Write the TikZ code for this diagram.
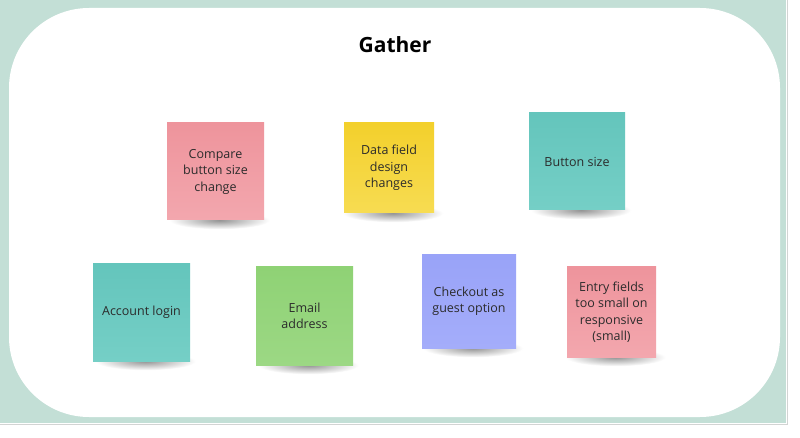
\documentclass[tikz,border=0pt]{standalone}
\usepackage{fontspec}
\setmainfont{Open Sans}
\pgfdeclarelayer{board}
\pgfdeclarelayer{shade}
\pgfsetlayers{board,shade,main}

\definecolor{frame}{HTML}{C3DFD6}
\definecolor{edgegray}{HTML}{D2D4D3}
\definecolor{inkdark}{HTML}{2B2B2B}
\definecolor{pinktop}{HTML}{EE949C}
\definecolor{pinkbot}{HTML}{F3A7AE}
\definecolor{yellowtop}{HTML}{F3D02C}
\definecolor{yellowbot}{HTML}{F7DC52}
\definecolor{tealtop}{HTML}{64C5BC}
\definecolor{tealbot}{HTML}{75CFC6}
\definecolor{greentop}{HTML}{8FD275}
\definecolor{greenbot}{HTML}{9CD884}
\definecolor{bluetop}{HTML}{99A3F8}
\definecolor{bluebot}{HTML}{A4ADFA}

\tikzset{
  sticky/.style={inner sep=0pt, align=center, text=inkdark,
    font=\fontsize{12.5}{16.5}\selectfont},
  pinknote/.style={sticky, top color=pinktop, bottom color=pinkbot},
  yellownote/.style={sticky, top color=yellowtop, bottom color=yellowbot},
  tealnote/.style={sticky, top color=tealtop, bottom color=tealbot},
  greennote/.style={sticky, top color=greentop, bottom color=greenbot},
  bluenote/.style={sticky, top color=bluetop, bottom color=bluebot},
}

\begin{document}
\begin{tikzpicture}[x=1pt, y=-1pt]
  \useasboundingbox (0,0) rectangle (800,438);

  % board
  \begin{pgfonlayer}{board}
    \fill[white] (0,0) rectangle (800,438);
    \fill[frame] (0,0) rectangle (786,423);
    \draw[edgegray, line width=1pt] (787,0) -- (787,424) -- (0,424);
    \fill[white, rounded corners=80pt] (9,8) rectangle (780,417);
  \end{pgfonlayer}

  \node[font=\fontsize{21}{25}\selectfont\bfseries, text=black] (title) at (395,45) {Gather};

  % notes
  \node[pinknote, minimum width=97pt, minimum height=97pt] (compare) at (215.5,171.5)
    {Compare\\button size\\change};
  \node[yellownote, minimum width=90pt, minimum height=90pt] (datafield) at (389,168)
    {Data field\\design\\changes};
  \node[tealnote, minimum width=96pt, minimum height=97pt] (button) at (577,161.5)
    {Button size};
  \node[tealnote, minimum width=97pt, minimum height=97pt] (account) at (141.5,312.5)
    {Account login};
  \node[greennote, minimum width=97pt, minimum height=98pt] (email) at (304.5,316)
    {Email\\address};
  \node[bluenote, minimum width=94pt, minimum height=93pt] (checkout) at (469,301.5)
    {Checkout as\\guest option};
  \node[pinknote, minimum width=89pt, minimum height=90pt] (entry) at (611.5,312)
    {Entry fields\\too small on\\responsive\\(small)};

  % shadows under the notes
  \begin{pgfonlayer}{shade}
    \foreach \n in {compare,datafield,button,account,email,checkout,entry}
      \shade[inner color=black!42, outer color=white]
        ([xshift=4pt,yshift=0pt]\n.south) ellipse (50pt and 9pt);
  \end{pgfonlayer}
\end{tikzpicture}
\end{document}
